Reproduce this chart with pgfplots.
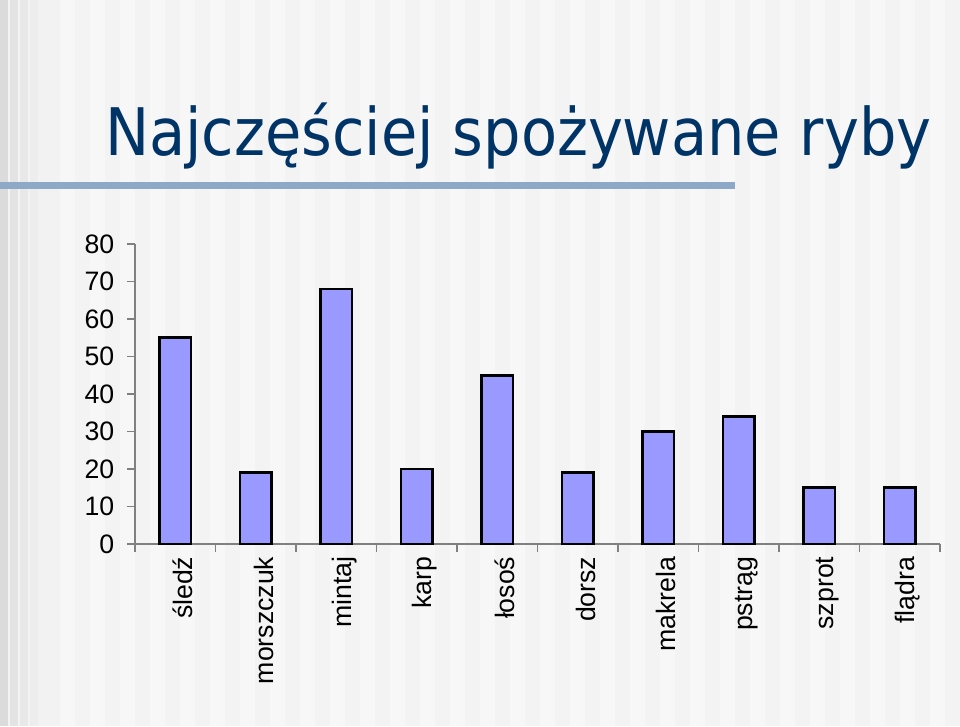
\documentclass[border=0pt]{standalone}
\usepackage{pgfplots}
\pgfplotsset{compat=1.18}
\usepackage{fontspec}
\setmainfont{Liberation Sans}
\newfontfamily\titlefont{DejaVu Sans Condensed}
\definecolor{titleblue}{RGB}{0,51,102}
\definecolor{rulebar}{RGB}{142,169,200}
\definecolor{barfill}{RGB}{153,153,255}
\definecolor{bg}{RGB}{243,243,243}
\begin{document}
\begin{tikzpicture}[x=0.75pt,y=0.75pt]
\clip (0,0) rectangle (960,726);
\fill[bg] (0,0) rectangle (960,726);
% left darker stripes
\fill[black!14] (0,0) rectangle (8,726);
\fill[black!11] (10,0) rectangle (18,726);
\fill[black!9] (20,0) rectangle (28,726);
\fill[black!7] (30,0) rectangle (38,726);
\fill[black!5] (38,0) rectangle (60,726);
\foreach \i in {0,...,30} {
  \fill[white,opacity=0.35] (60+\i*30,0) rectangle (75+\i*30,726);
}
% title
\node[anchor=base west, inner sep=0pt, text=titleblue, font=\titlefont\fontsize{49.2}{58}\selectfont] at (105,570) {Najczęściej spożywane ryby};
\fill[rulebar] (0,537) rectangle (735,544);
\begin{axis}[
  at={(101.25pt,136.5pt)}, anchor=south west,
  scale only axis, width=603.75pt, height=225pt,
  xmin=-0.5, xmax=9.5, ymin=0, ymax=80,
  axis x line*=bottom, axis y line*=left,
  axis line style={draw=black!50, line width=0.8pt},
  ytick={0,10,...,80},
  xtick={0,...,9},
  xticklabels={śledź,morszczuk,mintaj,karp,łosoś,dorsz,makrela,pstrąg,szprot,flądra},
  minor xtick={-0.5,0.5,...,9.5},
  major x tick style={draw=none},
  minor x tick style={draw=black!50, line width=0.8pt},
  major y tick style={draw=black!50, line width=0.8pt},
  tick align=outside,
  major tick length=6pt, minor tick length=6pt,
  /pgf/number format/assume math mode=true,
  ticklabel style={font=\fontsize{20}{22}\selectfont, text=black},
  xticklabel style={rotate=90, anchor=east},
  x tick label style={yshift=-6pt},
  yticklabel style={xshift=-6pt},
]
\addplot[ybar, bar width=23.5pt, fill=barfill, draw=black, line width=1.9pt]
  coordinates {(0,55) (1,19) (2,68) (3,20) (4,45) (5,19) (6,30) (7,34) (8,15) (9,15)};
\end{axis}
\end{tikzpicture}
\end{document}
